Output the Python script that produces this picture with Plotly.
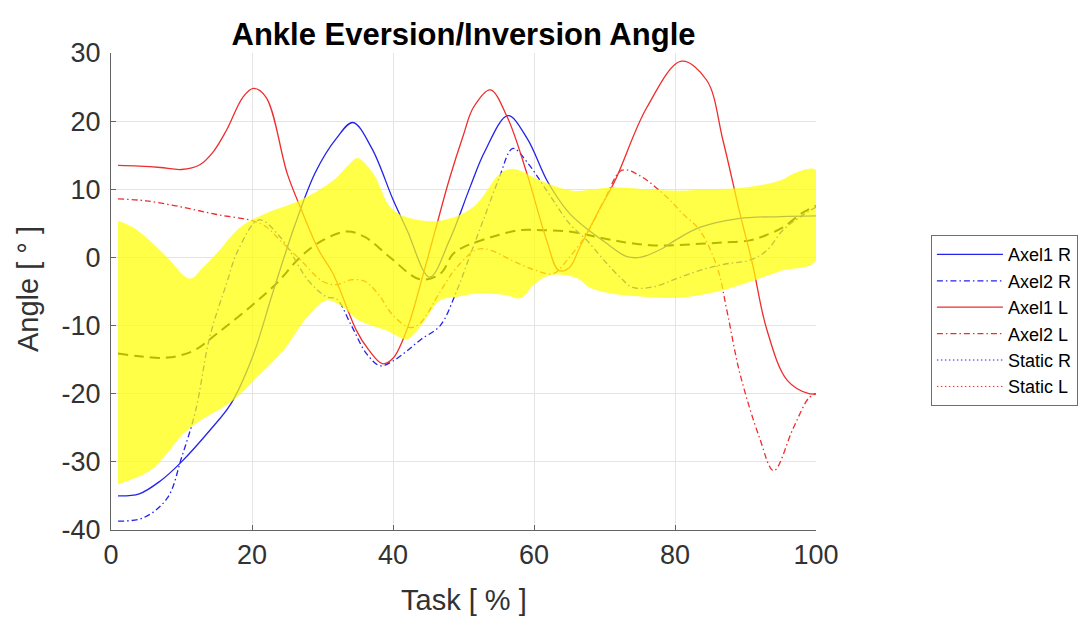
import plotly.graph_objects as go

# Axel1 R (right ankle, trial 1)
axel1_r_x = [1, 4, 7, 10, 14, 17, 20, 23, 26, 29, 32, 34.3, 37, 40, 42, 45.2, 48, 51, 53, 56.3,
             59, 62, 65, 68, 70, 73, 75, 78, 80, 83.5, 89, 95, 100]
axel1_r_y = [-35, -34.7, -32.8, -30, -25.4, -21.5, -14.8, -5, 4.5, 12.5, 17.5, 19.8, 16, 8.5, 4, -2.9,
             2.5, 10.5, 15.5, 20.8, 17.5, 11, 6.5, 3.8, 2.3, 0.2, 0, 1.2, 2.5, 4.4, 5.7, 6, 6.1]

# Axel2 R (right ankle, trial 2)
axel2_r_x = [1, 4.6, 8, 10, 12, 14, 16.4, 18, 21, 24, 28, 30.6, 32, 34, 36.3, 38.2, 40, 42, 44,
             46.7, 49, 51, 53, 55, 57, 59, 62, 65, 67.5, 70, 72.2, 74, 77, 80, 83.5, 87, 90.6, 93,
             95.3, 97.7, 100]
axel2_r_y = [-38.7, -38.2, -35.3, -29.4, -22.5, -11.7, -3.8, 1, 5.5, 3, -3.4, -5.8, -6.1, -9.8,
             -14.2, -15.9, -15.2, -13.7, -12, -10, -5, 0.5, 6, 11.5, 16, 14, 9.5, 5, 2.5, -0.5,
             -2.9, -4.4, -4.3, -3.2, -1.9, -1, -0.4, 1, 4, 5.9, 7.4]

# Axel1 L (left ankle, trial 1)
axel1_l_x = [1, 4, 7, 10, 12.6, 14.5, 16.4, 18.7, 20.2, 22, 25, 27, 29.5, 31.5, 34.8, 36.5, 38.5,
             40, 42, 44.3, 46, 48, 50, 51.4, 53.8, 56.2, 59, 61.8, 63.5, 65, 66.5, 69, 71.5, 76,
             80.9, 84.5, 86.8, 89.2, 91, 93, 95.9, 99, 100]
axel1_l_y = [13.5, 13.4, 13.2, 12.9, 13.6, 15.5, 18.7, 23.5, 24.8, 23.5, 12.3, 7, 1, -2.4, -10.7,
             -13.5, -15.6, -14.8, -10.5, -2.4, 4, 11.5, 18, 22, 24.6, 20.6, 12.3, 2.5, -1.9, -1.5,
             1.5, 6.5, 11.3, 22, 28.8, 26, 17.2, 6.5, -1, -10.5, -18, -20, -20]

# Axel2 L (left ankle, trial 2)
axel2_l_x = [1, 5, 10, 15, 20, 22, 24, 27, 30, 32, 34, 36, 38, 40, 42.5, 44, 46.7, 49, 52, 54,
             57, 60, 62.7, 65, 67.5, 70, 72.5, 75, 78.9, 81, 83.5, 86, 87.4, 89.2, 92, 94, 96.8,
             99, 100]
axel2_l_y = [8.6, 8.3, 7.4, 6.3, 5.4, 4.5, 2.5, -0.5, -3.5, -4, -3.3, -3.5, -5.5, -8.5, -10.3,
             -9.5, -5, -1.5, 1.2, 1, -0.5, -1.8, -2.4, 0, 3.5, 8.5, 12.8, 12, 8.8, 6.5, 4, -1.5,
             -8, -17, -26.5, -31.3, -25, -20.6, -20]

# Static trials carry no samples in this plot (legend entries only)
static_r_x, static_r_y = [None], [None]
static_l_x, static_l_y = [None], [None]

# Normative mean curve
norm_mean_x = [1, 4, 8, 11.7, 15, 19.7, 23.5, 26.8, 30, 33.5, 36, 39.6, 43.8, 46.7, 48.5, 50,
               54, 58, 61, 65, 69.4, 73, 76.5, 80, 83.5, 87, 90.6, 93, 95.3, 98, 100]
norm_mean_y = [-14.1, -14.5, -14.7, -13.7, -11.2, -7.3, -3.8, 0, 2.5, 3.8, 3, 0, -3.2, -2.4, 0.5,
               1.5, 3, 4, 4, 3.8, 2.9, 2.2, 1.8, 1.8, 2, 2.2, 2.5, 3.3, 4.4, 6.5, 7.6]

# Normative band (upper and lower bounds)
band_up_x = [1, 3, 5.5, 8, 11.2, 13, 15, 18.3, 22, 26.8, 31.5, 33.9, 35, 37.2, 39.6, 42, 46.7,
             51.4, 55.2, 57, 60.9, 65.5, 71.2, 76, 80.7, 85, 90.2, 94.9, 97.3, 100]
band_up_y = [5.4, 4.5, 2.5, 0, -3.1, -1.5, 0.6, 4.4, 6.5, 8.4, 11.3, 13.8, 14.6, 12.3, 7.4, 5.9,
             5.4, 7.4, 12.3, 13, 11.3, 9.8, 10.3, 10, 9.8, 10, 10.3, 11.3, 12.5, 12.8]
band_lo_x = [1, 5.5, 7.9, 10.2, 12.6, 17.3, 20.7, 24.4, 27.8, 30.6, 32.5, 35.3, 39, 42, 44,
             46.7, 49, 52, 56, 58, 60, 61.5, 63, 66, 68, 71, 76, 80.7, 86, 90, 95, 100]
band_lo_y = [-33.3, -31.3, -28.8, -25.9, -24, -21, -17.6, -13.7, -8.8, -6.3, -7, -9.3, -10.7,
             -12, -10, -6.3, -5.8, -5.3, -5.5, -6, -4, -2.9, -2.5, -3, -4.5, -5.3, -5.8, -5.9,
             -5, -3.8, -2, -0.5]

x_ticks = [0, 20, 40, 60, 80, 100]
y_ticks = [-40, -30, -20, -10, 0, 10, 20, 30]

BLUE = "rgb(35,35,235)"
RED = "rgb(238,45,45)"
DASHDOT = "6px,3px,1.5px,3px"
FONT = "Liberation Sans, Arial"
TEXT_GRAY = "rgb(50,50,50)"

fig = go.Figure()

fig.add_trace(go.Scatter(x=norm_mean_x, y=norm_mean_y, mode="lines", showlegend=False,
                         line=dict(color="black", width=2, dash="10px,6px", shape="spline")))
fig.add_trace(go.Scatter(x=axel1_r_x, y=axel1_r_y, mode="lines", name="Axel1 R",
                         line=dict(color=BLUE, width=1.3, shape="spline")))
fig.add_trace(go.Scatter(x=axel2_r_x, y=axel2_r_y, mode="lines", name="Axel2 R",
                         line=dict(color=BLUE, width=1.3, dash=DASHDOT, shape="spline")))
fig.add_trace(go.Scatter(x=axel1_l_x, y=axel1_l_y, mode="lines", name="Axel1 L",
                         line=dict(color=RED, width=1.3, shape="spline")))
fig.add_trace(go.Scatter(x=axel2_l_x, y=axel2_l_y, mode="lines", name="Axel2 L",
                         line=dict(color=RED, width=1.3, dash=DASHDOT, shape="spline")))
fig.add_trace(go.Scatter(x=static_r_x, y=static_r_y, mode="lines", name="Static R",
                         line=dict(color=BLUE, width=1, dash="1.5px,2.5px")))
fig.add_trace(go.Scatter(x=static_l_x, y=static_l_y, mode="lines", name="Static L",
                         line=dict(color=RED, width=1, dash="1.5px,2.5px")))

# Semi-transparent normative band drawn over the curves
fig.add_trace(go.Scatter(x=band_up_x + band_lo_x[::-1], y=band_up_y + band_lo_y[::-1],
                         mode="lines", fill="toself", fillcolor="rgba(255,255,0,0.72)",
                         line=dict(width=0, shape="spline"), showlegend=False,
                         hoverinfo="skip"))

axis_common = dict(
    showgrid=True, gridcolor="rgb(228,228,228)", gridwidth=1,
    showline=True, linecolor="rgb(100,100,100)", linewidth=1.3,
    ticks="inside", ticklen=5, tickcolor="rgb(100,100,100)",
    tickfont=dict(family=FONT, size=27, color=TEXT_GRAY),
    zeroline=False, mirror=False,
)

fig.update_layout(
    width=1086, height=619,
    margin=dict(l=111, r=270, t=53, b=89, autoexpand=False),
    paper_bgcolor="white", plot_bgcolor="white",
    title=dict(text="<b>Ankle Eversion/Inversion Angle</b>", x=0.5, xref="paper",
               y=1 - 34 / 619, yref="container", xanchor="center", yanchor="middle",
               font=dict(family=FONT, size=31, color="black")),
    xaxis=dict(range=[0, 100], tickvals=x_ticks, ticktext=[str(v) for v in x_ticks],
               ticklabelstandoff=0, **axis_common),
    yaxis=dict(range=[-40, 30], tickvals=y_ticks, ticktext=[str(v) for v in y_ticks],
               ticklabelstandoff=4, **axis_common),
    annotations=[
        dict(text="Angle [ ° ]", textangle=-90, x=(28 - 111) / 705, y=(530 - 289) / 477,
             xref="paper", yref="paper", showarrow=False, xanchor="center", yanchor="middle",
             font=dict(family=FONT, size=29, color=TEXT_GRAY)),
        dict(text="Task [ % ]", x=0.5, y=(530 - 600) / 477,
             xref="paper", yref="paper", showarrow=False, xanchor="center", yanchor="middle",
             font=dict(family=FONT, size=29, color=TEXT_GRAY)),
    ],
    legend=dict(x=1.163, y=0.618, xanchor="left", yanchor="top",
                bgcolor="white", bordercolor="rgb(110,110,110)", borderwidth=1,
                font=dict(family=FONT, size=18, color="black"),
                itemwidth=66, tracegroupgap=0),
    showlegend=True,
)

fig.write_html("out.html")
